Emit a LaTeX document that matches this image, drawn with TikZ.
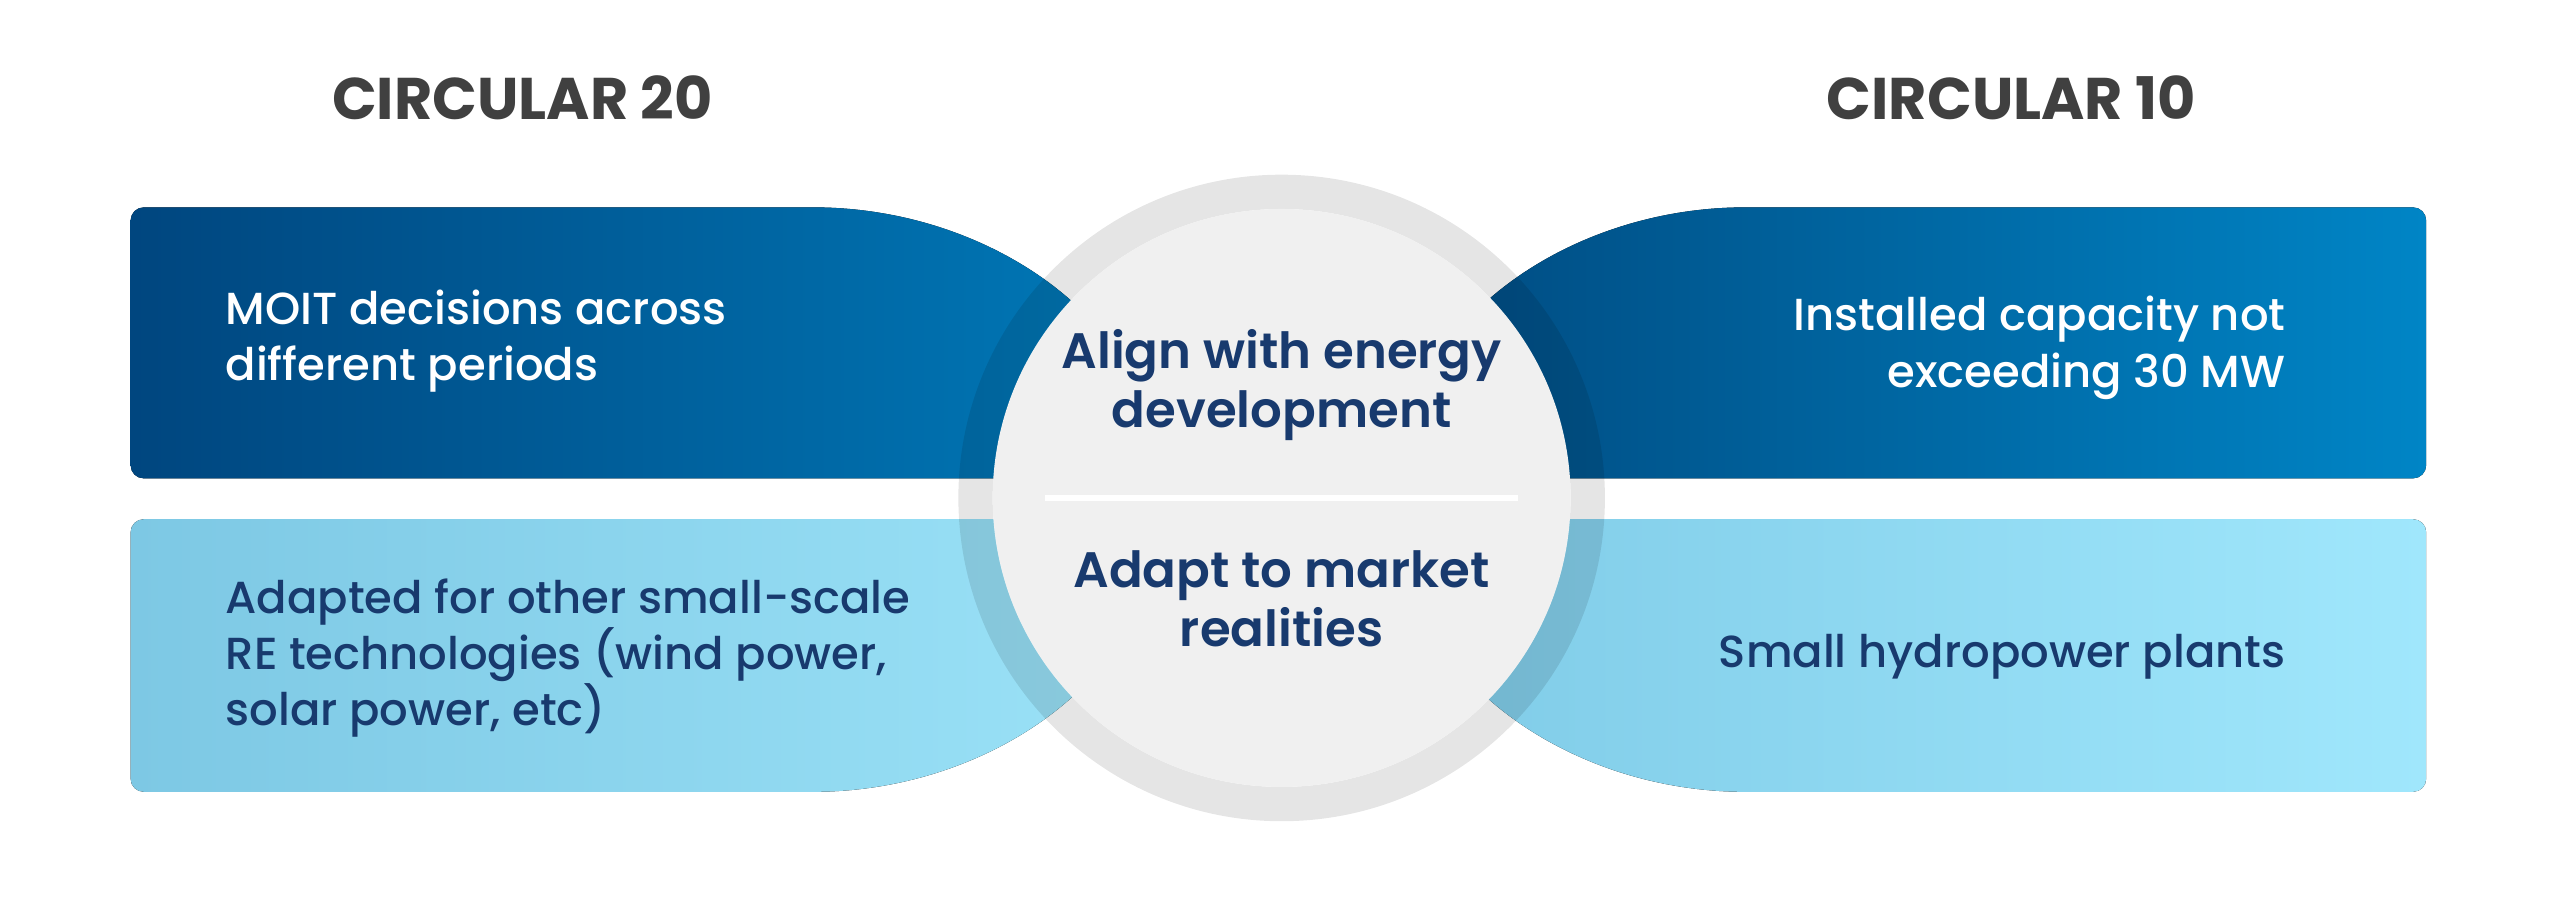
\documentclass[tikz,border=0pt]{standalone}
\usepackage{fontspec}
\setmainfont{Poppins}
\newfontfamily\pmed{Poppins Medium}
\newfontfamily\psemi{Poppins SemiBold}
\newfontfamily\pheavy{Poppins Bold}
\definecolor{titlegray}{HTML}{404040}
\definecolor{navy}{HTML}{183A6E}
\definecolor{darkA}{HTML}{00467F}
\definecolor{darkB}{HTML}{0079B8}
\definecolor{darkC}{HTML}{004A80}
\definecolor{darkD}{HTML}{0085C6}
\definecolor{lightA}{HTML}{7DC8E4}
\definecolor{lightB}{HTML}{9BE2F7}
\definecolor{lightC}{HTML}{7FCBE7}
\definecolor{lightD}{HTML}{A0E7FC}
\definecolor{innergray}{HTML}{F0F0F0}
\tikzset{
  titletext/.style={font=\pheavy\fontsize{36}{40}\selectfont, text=titlegray, inner sep=0pt},
  bartext/.style={font=\pmed\fontsize{27.5}{34.5}\selectfont, inner sep=0pt},
  circtext/.style={font=\psemi\fontsize{30.5}{36}\selectfont, text=navy, inner sep=0pt, align=center},
}
\begin{document}
\begin{tikzpicture}[x=1pt,y=1pt]
\useasboundingbox (0,0) rectangle (1568,554);
\fill[white] (0,0) rectangle (1568,554);
% bars
\fill[left color=darkA, right color=darkB, rounded corners=8]
  (707,261) -- (80,261) -- (80,427) -- (490,427)
  arc[start angle=90, end angle=0, x radius=217, y radius=166] -- cycle;
\fill[left color=lightA, right color=lightB, rounded corners=8]
  (707,236) -- (80,236) -- (80,69) -- (490,69)
  arc[start angle=270, end angle=360, x radius=217, y radius=167] -- cycle;
\fill[left color=darkC, right color=darkD, rounded corners=8]
  (860,261) -- (1486,261) -- (1486,427) -- (1077,427)
  arc[start angle=90, end angle=180, x radius=217, y radius=166] -- cycle;
\fill[left color=lightC, right color=lightD, rounded corners=8]
  (860,236) -- (1486,236) -- (1486,69) -- (1077,69)
  arc[start angle=270, end angle=180, x radius=217, y radius=167] -- cycle;
% circle
\fill[black, opacity=0.1, even odd rule] (785,249) circle[radius=198] (785,249) circle[radius=177];
\fill[innergray] (785,249) circle[radius=177];
\draw[white, line width=4] (640,249) -- (930,249);
% texts
\node[titletext] (t20) at (320,494) {CIRCULAR 20};
\node[titletext] (t10) at (1232,494) {CIRCULAR 10};
\node[bartext, text=white, anchor=west, align=left] (moit) at (138,345) {MOIT decisions across\\different periods};
\node[bartext, text=white, anchor=east, align=right] (inst) at (1400,341) {Installed capacity not\\exceeding 30 MW};
\node[bartext, text=navy, anchor=west, align=left] (adap) at (138,151) {Adapted for other small-scale\\RE technologies (wind power,\\solar power, etc)};
\node[bartext, text=navy, anchor=east] (hydro) at (1400,152) {Small hydropower plants};
\node[circtext] (align) at (785,318) {Align with energy\\development};
\node[circtext] (market) at (785,187) {Adapt to market\\realities};
\end{tikzpicture}
\end{document}
